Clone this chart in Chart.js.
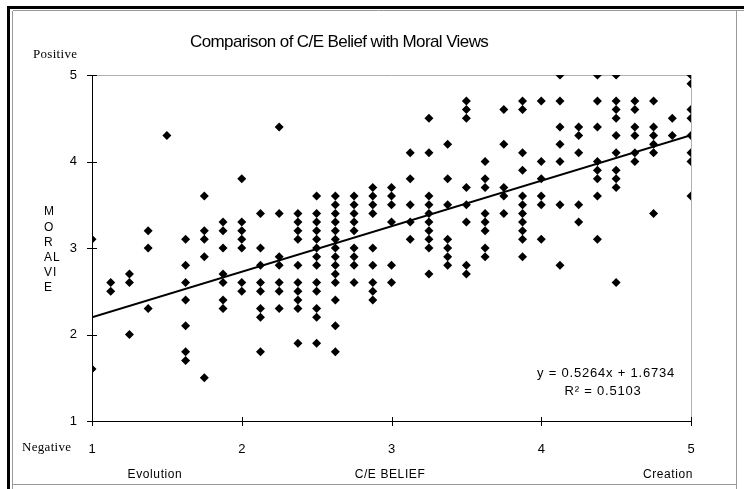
<!DOCTYPE html>
<html>
<head>
<meta charset="utf-8">
<script src="https://cdn.jsdelivr.net/npm/chart.js@4.4.1/dist/chart.umd.min.js"></script>
<style>
  body { margin: 0; background: #fff; }
  #wrap { width: 744px; height: 489px; }
</style>
</head>
<body>
<div id="wrap"><canvas id="chart" width="744" height="489"></canvas></div>
<script>
// C/E belief (x) columns, and the moral-view scores seen in each column
const beliefLevels = [1, 1.125, 1.25, 1.375, 1.5, 1.625, 1.75, 1.875, 2, 2.125, 2.25, 2.375, 2.5, 2.625,
  2.75, 2.875, 3, 3.125, 3.25, 3.375, 3.5, 3.625, 3.75, 3.875, 4, 4.125, 4.25, 4.375, 4.5, 4.625, 4.75, 4.875, 5];
const moralScores = [
  [3.1, 1.6],
  [2.6, 2.5],
  [2.7, 2.6, 2.0],
  [3.2, 3.0, 2.3],
  [4.3],
  [3.1, 2.8, 2.6, 2.4, 2.1, 1.8, 1.7],
  [3.6, 3.2, 3.1, 2.9, 1.5],
  [3.3, 3.2, 3.0, 2.7, 2.6, 2.4, 2.3],
  [3.8, 3.3, 3.2, 3.1, 3.0, 2.6, 2.5],
  [3.4, 3.0, 2.8, 2.6, 2.5, 2.3, 2.2, 1.8],
  [4.4, 3.4, 2.9, 2.8, 2.6, 2.5, 2.3],
  [3.4, 3.3, 3.2, 3.1, 2.8, 2.6, 2.5, 2.4, 2.3, 1.9],
  [3.6, 3.4, 3.3, 3.2, 3.1, 3.0, 2.9, 2.8, 2.6, 2.5, 2.3, 2.2, 1.9],
  [3.6, 3.5, 3.4, 3.3, 3.2, 3.1, 3.0, 2.9, 2.8, 2.7, 2.6, 2.4, 2.1, 1.8],
  [3.6, 3.5, 3.4, 3.3, 3.2, 3.0, 2.9, 2.8, 2.6],
  [3.7, 3.6, 3.5, 3.4, 3.0, 2.8, 2.6, 2.5, 2.4],
  [3.7, 3.6, 3.5, 3.3, 2.8, 2.6],
  [4.1, 3.8, 3.5, 3.3, 3.1],
  [4.5, 4.1, 3.6, 3.5, 3.4, 3.3, 3.2, 3.1, 3.0, 2.7],
  [4.2, 3.8, 3.5, 3.1, 3.0, 2.9, 2.8],
  [4.7, 4.6, 4.5, 3.7, 3.5, 3.3, 2.8, 2.7],
  [4.0, 3.8, 3.7, 3.4, 3.3, 3.2, 3.0, 2.9],
  [4.6, 4.2, 3.7, 3.6, 3.4],
  [4.7, 4.6, 4.1, 3.9, 3.6, 3.5, 3.4, 3.3, 3.2, 3.1, 2.9],
  [4.7, 4.0, 3.8, 3.6, 3.5, 3.1],
  [5.0, 4.7, 4.4, 4.2, 4.0, 3.5, 2.8],
  [4.4, 4.3, 4.1, 3.5, 3.3],
  [5.0, 4.7, 4.4, 4.0, 3.9, 3.8, 3.6, 3.1],
  [5.0, 4.7, 4.6, 4.5, 4.3, 4.1, 3.9, 3.8, 3.7, 2.6],
  [4.7, 4.6, 4.4, 4.3, 4.1, 4.0],
  [4.7, 4.4, 4.3, 4.2, 4.1, 3.4],
  [4.5, 4.3],
  [5.0, 4.9, 4.6, 4.5, 4.3, 4.1, 4.0, 3.6]
];
const xTicks = [1, 2, 3, 4, 5];
const yTicks = [1, 2, 3, 4, 5];
const trendSlope = 0.5264;
const trendIntercept = 1.6734;
const trendRange = [1, 5];

const points = [];
beliefLevels.forEach((x, i) => {
  moralScores[i].forEach(y => points.push({x: x, y: y}));
});
const trendPoints = trendRange.map(x => ({x: x, y: trendSlope * x + trendIntercept}));

const SANS = "'Liberation Sans', Arial, sans-serif";
const SERIF = "'Liberation Serif', 'Times New Roman', serif";

function text(ctx, str, x, y, font, align, spacing) {
  ctx.font = font;
  ctx.textAlign = align || "center";
  ctx.textBaseline = "middle";
  ctx.letterSpacing = (spacing || 0) + "px";
  ctx.fillStyle = "#000";
  ctx.fillText(str, x, y);
  ctx.letterSpacing = "0px";
}

const framePlugin = {
  id: "frame",
  beforeDraw(chart) {
    const ctx = chart.ctx;
    ctx.save();
    ctx.fillStyle = "#fff";
    ctx.fillRect(0, 0, 744, 489);
    // outer frame: heavy black top/left, thin grey right/bottom
    ctx.fillStyle = "#000";
    ctx.fillRect(7, 6, 737, 3);
    ctx.fillRect(7, 6, 3, 483);
    ctx.strokeStyle = "#999";
    ctx.lineWidth = 1;
    ctx.beginPath();
    ctx.moveTo(12.5, 11); ctx.lineTo(12.5, 489);
    ctx.moveTo(13, 10.5); ctx.lineTo(744, 10.5);
    ctx.moveTo(736.5, 10); ctx.lineTo(736.5, 489);
    ctx.moveTo(13, 484.5); ctx.lineTo(737, 484.5);
    ctx.stroke();
    // grey top and right edges of the plot area
    const a = chart.chartArea;
    ctx.strokeStyle = "#b0b0b0";
    ctx.beginPath();
    ctx.moveTo(a.left, Math.round(a.top) + 0.5);
    ctx.lineTo(a.right, Math.round(a.top) + 0.5);
    ctx.moveTo(Math.round(a.right) + 0.5, a.top);
    ctx.lineTo(Math.round(a.right) + 0.5, a.bottom);
    ctx.stroke();
    ctx.restore();
  },
  afterDraw(chart) {
    const ctx = chart.ctx;
    const xs = chart.scales.x, ys = chart.scales.y;
    ctx.save();
    // cross tick marks
    ctx.strokeStyle = "#000";
    ctx.lineWidth = 1;
    ctx.beginPath();
    xTicks.forEach(v => {
      const px = Math.round(xs.getPixelForValue(v)) + 0.5;
      ctx.moveTo(px, ys.bottom - 4);
      ctx.lineTo(px, ys.bottom + 5);
    });
    yTicks.forEach(v => {
      const py = Math.round(ys.getPixelForValue(v)) + 0.5;
      ctx.moveTo(xs.left - 5, py);
      ctx.lineTo(xs.left + 5, py);
    });
    ctx.stroke();

    text(ctx, "Comparison of C/E Belief with Moral Views", 190, 42, "17px " + SANS, "left", -0.6);
    text(ctx, "Positive", 33, 55, "13px " + SERIF, "left", 0.3);
    text(ctx, "Negative", 22, 448, "13px " + SERIF, "left", 0.3);
    const vLetters = ["M", "O", "R", "AL", "VI", "E"];
    vLetters.forEach((s, i) => text(ctx, s, 44, 212 + i * 15.2, "12px " + SANS, "left", 1));
    text(ctx, "Evolution", 155, 475, "12px " + SANS, "center", 0.6);
    text(ctx, "C/E BELIEF", 390, 475, "12px " + SANS, "center", 0.6);
    text(ctx, "Creation", 668, 475, "12px " + SANS, "center", 0.6);
    text(ctx, "y = 0.5264x + 1.6734", 606, 373, "13px " + SANS, "center", 0.8);
    text(ctx, "R² = 0.5103", 603, 391, "13px " + SANS, "center", 0.8);
    ctx.restore();
  }
};

new Chart(document.getElementById("chart"), {
  type: "scatter",
  data: {
    datasets: [
      {
        label: "Scores",
        data: points,
        pointStyle: "rectRot",
        pointRadius: 4.5,
        backgroundColor: "#000",
        borderColor: "#000",
        borderWidth: 0,
        order: 2
      },
      {
        label: "Trend",
        data: trendPoints,
        showLine: true,
        borderColor: "#000",
        borderWidth: 2,
        pointRadius: 0,
        fill: false,
        order: 1
      }
    ]
  },
  options: {
    responsive: false,
    animation: false,
    devicePixelRatio: 1,
    layout: { padding: { left: 0, top: 75, right: 53, bottom: 0 } },
    plugins: { legend: { display: false }, tooltip: { enabled: false }, title: { display: false } },
    scales: {
      x: {
        type: "linear",
        min: 1,
        max: 5,
        afterBuildTicks: (scale) => { scale.ticks = xTicks.map(v => ({value: v})); },
        afterFit: (scale) => { scale.height = 68; },
        ticks: { color: "#000", font: { family: SANS, size: 13 }, padding: 13 },
        grid: { display: false },
        border: { display: true, color: "#000", width: 1 }
      },
      y: {
        type: "linear",
        min: 1,
        max: 5,
        afterBuildTicks: (scale) => { scale.ticks = yTicks.map(v => ({value: v})); },
        afterFit: (scale) => { scale.width = 92; },
        ticks: { color: "#000", font: { family: SANS, size: 13 }, padding: 7 },
        grid: { display: false },
        border: { display: true, color: "#000", width: 1 }
      }
    }
  },
  plugins: [framePlugin]
});
</script>
</body>
</html>
